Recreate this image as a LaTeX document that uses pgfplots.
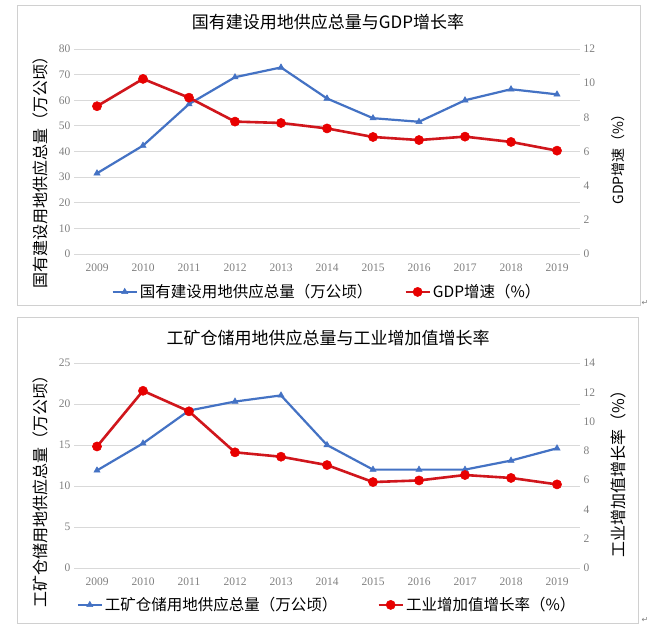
\documentclass[border=0pt]{standalone}
\usepackage{pgfplots}
\pgfplotsset{compat=1.18}
\usepackage{fontspec}
\setmainfont{Liberation Serif}
\newfontfamily\cjk{Noto Sans CJK SC}
\newfontfamily\djv{DejaVu Sans}
\definecolor{bl}{HTML}{4472C4}
\definecolor{rdl}{HTML}{D0161C}
\definecolor{rdm}{HTML}{E80000}
\definecolor{tk}{HTML}{808080}
\definecolor{gr}{HTML}{D9D9D9}
\definecolor{fr}{HTML}{D0D0D0}
\pgfplotsset{
  common/.style={
    scale only axis, width=506pt, height=205pt,
    xmin=-0.5, xmax=10.5, xtick={0,...,10},
    xticklabels={2009,2010,2011,2012,2013,2014,2015,2016,2017,2018,2019},
    axis line style={draw=none}, major tick length=0pt,
    tick label style={font=\fontsize{11.5}{13}\selectfont, text=tk},
    xticklabel style={yshift=-6pt},
    /pgf/number format/assume math mode=true,
    ylabel style={font=\cjk\fontsize{16}{18}\selectfont, text=black, anchor=center},
    major grid style={gr, line width=0.8pt},
    clip=false,
    legend style={draw=none, fill=none, legend columns=2, anchor=center,
      font=\cjk\fontsize{15.5}{18}\selectfont, inner sep=0pt},
    legend cell align=left,
    legend image code/.code={\draw[mark repeat=2,mark phase=2,##1] plot coordinates {(0pt,0pt) (12pt,0pt) (24pt,0pt)};},
  },
  blueline/.style={bl, line width=2.2pt, mark=triangle*, mark size=3.6pt, mark options={fill=bl, draw=bl, line width=0.5pt}},
  redline/.style={rdl, line width=2.6pt, mark=*, mark size=4.6pt, mark options={fill=rdm, draw=rdm, line width=0.5pt}},
}
\begin{document}
\begin{tikzpicture}
\path[use as bounding box, fill=white] (0pt,0pt) rectangle (668pt,630pt);
\draw[fr, line width=0.8pt] (17pt,325pt) rectangle (640pt,625pt);
\draw[fr, line width=0.8pt] (17pt,7pt) rectangle (638pt,313pt);
\node[font=\cjk\fontsize{17}{20}\selectfont] at (328pt,608pt) {国有建设用地供应总量与GDP增长率};
\node[font=\cjk\fontsize{17}{20}\selectfont] at (328pt,292pt) {工矿仓储用地供应总量与工业增加值增长率};
\node[font=\djv\fontsize{8}{9}\selectfont, text=tk] at (645pt,327pt) {↵};
\node[font=\djv\fontsize{8}{9}\selectfont, text=tk] at (645pt,10pt) {↵};

% ---------- Chart 1 ----------
\begin{axis}[common, at={(74pt,376pt)}, anchor=south west,
  ymin=0, ymax=80, ytick distance=10, ymajorgrids,
  ylabel={国有建设用地供应总量（万公顷）},
  ylabel style={at={(axis description cs:-0.067,0.415)}}]
\addplot[blueline] coordinates {
 (0,31.5) (1,42.3) (2,58.5) (3,69.0) (4,72.8) (5,60.7) (6,53.0) (7,51.6) (8,60.0) (9,64.3) (10,62.3)};
\end{axis}
\begin{axis}[common, at={(74pt,376pt)}, anchor=south west,
  ymin=0, ymax=12, ytick distance=2, axis y line*=right, hide x axis,
  ylabel={GDP增速（\%）},
  ylabel style={at={(axis description cs:1.075,0.478)}, font=\cjk\fontsize{14}{17}\selectfont},
  legend style={at={(0.5,-0.185)}, /tikz/every even column/.append style={column sep=30pt}}]
\addlegendimage{blueline}
\addlegendentry{国有建设用地供应总量（万公顷）}
\addplot[redline] coordinates {
 (0,8.65) (1,10.25) (2,9.15) (3,7.75) (4,7.67) (5,7.35) (6,6.85) (7,6.67) (8,6.87) (9,6.56) (10,6.05)};
\addlegendentry{GDP增速（\%）}
\end{axis}

% ---------- Chart 2 ----------
\begin{axis}[common, at={(74pt,62pt)}, anchor=south west,
  ymin=0, ymax=25, ytick distance=5, ymajorgrids,
  ylabel={工矿仓储用地供应总量（万公顷）},
  ylabel style={at={(axis description cs:-0.067,0.395)}}]
\addplot[blueline] coordinates {
 (0,11.9) (1,15.2) (2,19.2) (3,20.3) (4,21.05) (5,15.0) (6,12.0) (7,12.0) (8,12.0) (9,13.1) (10,14.6)};
\end{axis}
\begin{axis}[common, at={(74pt,62pt)}, anchor=south west,
  ymin=0, ymax=14, ytick distance=2, axis y line*=right, hide x axis,
  ylabel={工业增加值增长率（\%）},
  ylabel style={at={(axis description cs:1.075,0.478)}},
  legend style={at={(0.5,-0.18)}, /tikz/every even column/.append style={column sep=38pt}}]
\addlegendimage{blueline}
\addlegendentry{工矿仓储用地供应总量（万公顷）}
\addplot[redline] coordinates {
 (0,8.3) (1,12.1) (2,10.7) (3,7.9) (4,7.6) (5,7.03) (6,5.87) (7,5.98) (8,6.35) (9,6.15) (10,5.71)};
\addlegendentry{工业增加值增长率（\%）}
\end{axis}
\end{tikzpicture}
\end{document}
